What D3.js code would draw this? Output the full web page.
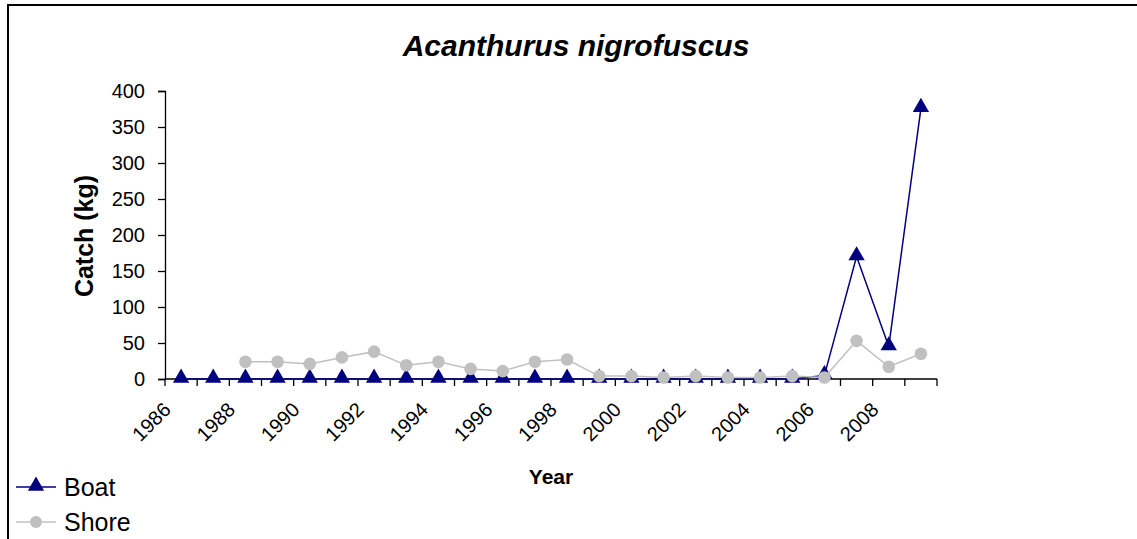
<!DOCTYPE html>
<html>
<head>
<meta charset="utf-8">
<script src="https://cdn.jsdelivr.net/npm/d3@7"></script>
<style>
body{margin:0;background:#fff;}
text{font-family:"Liberation Sans",Arial,sans-serif;}
</style>
</head>
<body>
<script>
var years = [1986,1987,1988,1989,1990,1991,1992,1993,1994,1995,1996,1997,1998,1999,2000,2001,2002,2003,2004,2005,2006,2007,2008,2009];
var boatCatch = [0,0,0,0,0,0,0,0,0,0,0,0,0,0,0,0,0,0,0,0,5,170,45,376];
var shoreCatch = [null,null,24,24,21,30,38,19,24,14,11,24,27,4,4,2,4,2,2,4,2,53,17,35];
var yTicks = [0,50,100,150,200,250,300,350,400];
var yearLabels = [1986,1988,1990,1992,1994,1996,1998,2000,2002,2004,2006,2008];

var svg = d3.select("body").append("svg").attr("width",1137).attr("height",539);

// outer frame
svg.append("rect").attr("x",8).attr("y",5).attr("width",1140).attr("height",545)
      .attr("fill","none").attr("stroke","#000").attr("stroke-width",2);

var x = d3.scaleBand().domain(years).range([165,937]).padding(0);
var y = d3.scaleLinear().domain([0,400]).range([379,91]);
var cx = function(d){return x(d)+x.bandwidth()/2;};

// y axis
var yAxis = svg.append("g").attr("transform","translate(165,0)")
      .call(d3.axisLeft(y).tickValues(yTicks).tickSize(7).tickPadding(13));
yAxis.select(".domain").attr("stroke","#000").attr("stroke-width",1.3);
yAxis.selectAll(".tick line").attr("stroke","#000").attr("stroke-width",1.3);
yAxis.selectAll("text").attr("font-size",20).attr("fill","#000")
      .attr("font-family","Liberation Sans, Arial, sans-serif");

// x axis: ticks on band edges
svg.append("line").attr("x1",165).attr("y1",379).attr("x2",937).attr("y2",379)
      .attr("stroke","#000").attr("stroke-width",1.3);
var edges = years.map(function(d){return x(d);}).concat([937]);
svg.selectAll("line.xtick")
      .data(edges)
      .enter().append("line")
      .attr("class","xtick")
      .attr("x1",function(d){return d;})
      .attr("x2",function(d){return d;})
      .attr("y1",379).attr("y2",386)
      .attr("stroke","#000").attr("stroke-width",1.3);

svg.selectAll("text.xlab")
      .data(yearLabels)
      .enter().append("text")
      .attr("class","xlab")
      .attr("transform",function(d){return "translate("+(cx(d)-9)+",411) rotate(-45)";})
      .attr("text-anchor","end")
      .attr("font-size",20)
      .attr("fill","#000")
      .text(function(d){return d;});

// series
var line = d3.line()
      .defined(function(d){return d.v!==null;})
      .x(function(d){return cx(d.year);})
      .y(function(d){return y(d.v);});

var boatData = years.map(function(d,i){return {year:d,v:boatCatch[i]};});
var shoreData = years.map(function(d,i){return {year:d,v:shoreCatch[i]};});

svg.append("path").datum(boatData).attr("d",line)
      .attr("fill","none").attr("stroke","#000080").attr("stroke-width",1.5);

var tri = d3.symbol().type(d3.symbolTriangle).size(115);
svg.selectAll("path.boat")
      .data(boatData)
      .enter().append("path")
      .attr("class","boat")
      .attr("d",tri)
      .attr("transform",function(d){return "translate("+cx(d.year)+","+(y(d.v)-1)+")";})
      .attr("fill","#000080");

svg.append("path").datum(shoreData).attr("d",line)
      .attr("fill","none").attr("stroke","#c0c0c0").attr("stroke-width",1.5);

svg.selectAll("circle.shore")
      .data(shoreData.filter(function(d){return d.v!==null;}))
      .enter().append("circle")
      .attr("class","shore")
      .attr("cx",function(d){return cx(d.year);})
      .attr("cy",function(d){return y(d.v);})
      .attr("r",6.3)
      .attr("fill","#c0c0c0");

// titles
svg.append("text").text("Acanthurus nigrofuscus")
      .attr("x",576).attr("y",56)
      .attr("text-anchor","middle")
      .attr("font-size",30)
      .attr("font-style","italic")
      .attr("font-weight","bold")
      .attr("fill","#000");

svg.append("text").text("Catch (kg)")
      .attr("transform","translate(93,236) rotate(-90)")
      .attr("text-anchor","middle")
      .attr("font-size",25)
      .attr("font-weight","bold")
      .attr("fill","#000");

svg.append("text").text("Year")
      .attr("x",551).attr("y",484)
      .attr("text-anchor","middle")
      .attr("font-size",21)
      .attr("font-weight","bold")
      .attr("fill","#000");

// legend
var legendItems = ["Boat","Shore"];
var legendColors = ["#000080","#c0c0c0"];
var lg = svg.selectAll("g.legend")
      .data(legendItems)
      .enter().append("g")
      .attr("class","legend")
      .attr("transform",function(d,i){return "translate(0,"+(487+i*35)+")";});
lg.append("line").attr("x1",16).attr("x2",56).attr("y1",0).attr("y2",0)
      .attr("stroke",function(d,i){return legendColors[i];}).attr("stroke-width",1.5);
lg.filter(function(d,i){return i===0;}).append("path")
      .attr("d",tri).attr("transform","translate(36,-1)").attr("fill","#000080");
lg.filter(function(d,i){return i===1;}).append("circle")
      .attr("cx",36).attr("cy",0).attr("r",6).attr("fill","#c0c0c0");
lg.append("text").text(function(d){return d;})
      .attr("x",64).attr("y",0)
      .attr("dy","0.35em")
      .attr("font-size",25)
      .attr("fill","#000");
</script>
</body>
</html>
